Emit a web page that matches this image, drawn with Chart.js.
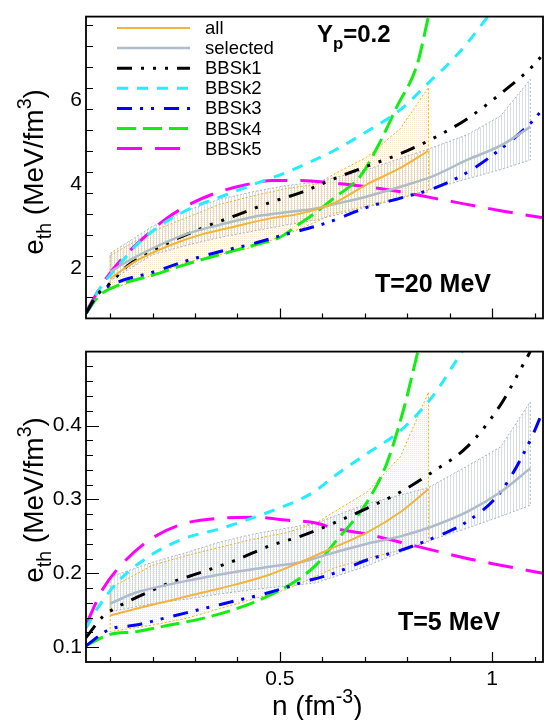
<!DOCTYPE html>
<html>
<head>
<meta charset="utf-8">
<script src="https://cdn.jsdelivr.net/npm/chart.js@4.4.0/dist/chart.umd.min.js"></script>
<style>
  html, body { margin: 0; padding: 0; background: #fff; }
  #wrap { position: relative; width: 547px; height: 720px; }
  .panel { position: absolute; left: 0; width: 547px; }
</style>
</head>
<body>
<div id="wrap">
  <div class="panel" style="top:0;height:335px"><canvas id="hot" width="547" height="335"></canvas></div>
  <div class="panel" style="top:335px;height:385px"><canvas id="cold" width="547" height="385"></canvas></div>
</div>
<script>
// === Data: thermal energy density e_th vs density n, Yp = 0.2 ===

// --- T = 20 MeV ---
const t20_bbsk1_n = [0.043, 0.067, 0.1, 0.145, 0.185, 0.24, 0.318, 0.397, 0.475, 0.554, 0.627, 0.705, 0.784, 0.862, 0.941, 1.02, 1.098, 1.12];
const t20_bbsk1_e = [0.92, 1.34, 1.64, 2.09, 2.32, 2.62, 2.96, 3.26, 3.56, 3.82, 4.13, 4.43, 4.73, 5.1, 5.56, 6.16, 6.84, 7.1];
const t20_bbsk2_n = [0.043, 0.074, 0.122, 0.169, 0.232, 0.295, 0.373, 0.452, 0.515, 0.56, 0.627, 0.705, 0.784, 0.862, 0.894, 0.94, 0.99];
const t20_bbsk2_e = [0.92, 1.49, 2.09, 2.62, 3.11, 3.45, 3.75, 4.05, 4.28, 4.48, 4.8, 5.26, 5.78, 6.54, 6.84, 7.35, 8.0];
const t20_bbsk3_n = [0.043, 0.074, 0.122, 0.2, 0.279, 0.357, 0.436, 0.515, 0.585, 0.627, 0.705, 0.784, 0.862, 0.941, 1.02, 1.09, 1.12];
const t20_bbsk3_e = [0.92, 1.41, 1.68, 1.9, 2.17, 2.39, 2.58, 2.81, 3.0, 3.14, 3.45, 3.67, 3.9, 4.28, 4.84, 5.45, 5.8];
const t20_bbsk4_n = [0.043, 0.074, 0.122, 0.2, 0.279, 0.357, 0.436, 0.499, 0.548, 0.585, 0.627, 0.69, 0.737, 0.776, 0.823, 0.85];
const t20_bbsk4_e = [0.92, 1.34, 1.6, 1.83, 2.09, 2.32, 2.54, 2.73, 3.07, 3.33, 3.67, 4.2, 5.03, 5.86, 6.84, 8.0];
const t20_bbsk5_n = [0.043, 0.09, 0.137, 0.185, 0.232, 0.295, 0.357, 0.42, 0.483, 0.548, 0.627, 0.705, 0.784, 0.862, 0.941, 1.02, 1.12];
const t20_bbsk5_e = [0.96, 1.75, 2.32, 2.78, 3.18, 3.56, 3.82, 3.99, 4.09, 4.09, 4.03, 3.94, 3.82, 3.67, 3.52, 3.37, 3.2];
const t20_all_n = [0.1, 0.161, 0.24, 0.318, 0.397, 0.475, 0.548, 0.627, 0.705, 0.784, 0.85];
const t20_all_e = [1.75, 2.17, 2.54, 2.81, 3.0, 3.18, 3.3, 3.55, 4.0, 4.39, 4.8];
const t20_sel_n = [0.1, 0.122, 0.2, 0.279, 0.357, 0.436, 0.515, 0.585, 0.627, 0.705, 0.784, 0.862, 0.941, 1.02, 1.09];
const t20_sel_e = [1.9, 2.05, 2.47, 2.81, 3.03, 3.22, 3.33, 3.42, 3.52, 3.71, 3.94, 4.2, 4.58, 4.92, 5.37];
// uncertainty bands
const t20_allBand_n = [0.1, 0.2, 0.279, 0.357, 0.436, 0.515, 0.585, 0.627, 0.705, 0.784, 0.85];
const t20_allBand_hi = [2.3, 2.88, 3.2, 3.52, 3.72, 3.9, 4.0, 4.24, 4.65, 5.33, 6.31];
const t20_allBand_lo = [1.49, 1.83, 2.13, 2.32, 2.5, 2.8, 3.1, 3.3, 3.48, 3.67, 3.82];
const t20_selBand_n = [0.1, 0.2, 0.279, 0.357, 0.436, 0.515, 0.585, 0.705, 0.85, 0.941, 1.02, 1.09];
const t20_selBand_hi = [2.35, 3.0, 3.37, 3.64, 3.82, 3.97, 4.05, 4.35, 4.84, 5.18, 5.63, 6.5];
const t20_selBand_lo = [1.7, 2.32, 2.54, 2.73, 2.88, 3.03, 3.15, 3.45, 3.86, 4.13, 4.35, 4.58];

// --- T = 5 MeV ---
const t5_bbsk1_n = [0.043, 0.082, 0.122, 0.161, 0.24, 0.318, 0.397, 0.475, 0.548, 0.627, 0.705, 0.784, 0.862, 0.941, 1.02, 1.067, 1.09];
const t5_bbsk1_e = [0.113, 0.141, 0.156, 0.167, 0.187, 0.202, 0.218, 0.237, 0.25, 0.268, 0.288, 0.31, 0.338, 0.371, 0.428, 0.476, 0.5];
const t5_bbsk2_n = [0.043, 0.074, 0.122, 0.2, 0.279, 0.357, 0.436, 0.515, 0.548, 0.585, 0.627, 0.705, 0.784, 0.862, 0.917, 0.93];
const t5_bbsk2_e = [0.126, 0.156, 0.191, 0.226, 0.248, 0.26, 0.275, 0.292, 0.3, 0.312, 0.331, 0.362, 0.393, 0.441, 0.489, 0.5];
const t5_bbsk3_n = [0.043, 0.098, 0.161, 0.24, 0.318, 0.397, 0.475, 0.548, 0.627, 0.705, 0.784, 0.862, 0.941, 1.02, 1.09, 1.12];
const t5_bbsk3_e = [0.102, 0.124, 0.13, 0.141, 0.152, 0.163, 0.174, 0.187, 0.2, 0.218, 0.231, 0.248, 0.27, 0.31, 0.38, 0.42];
const t5_bbsk4_n = [0.043, 0.098, 0.161, 0.24, 0.318, 0.397, 0.475, 0.53, 0.585, 0.627, 0.705, 0.752, 0.792, 0.825];
const t5_bbsk4_e = [0.102, 0.117, 0.121, 0.13, 0.139, 0.152, 0.17, 0.187, 0.211, 0.24, 0.296, 0.349, 0.423, 0.5];
const t5_bbsk5_n = [0.043, 0.082, 0.137, 0.2, 0.279, 0.373, 0.436, 0.515, 0.585, 0.627, 0.705, 0.784, 0.862, 0.941, 1.02, 1.12];
const t5_bbsk5_e = [0.13, 0.178, 0.218, 0.248, 0.268, 0.275, 0.276, 0.272, 0.268, 0.261, 0.253, 0.242, 0.231, 0.22, 0.211, 0.2];
const t5_all_n = [0.1, 0.161, 0.24, 0.318, 0.397, 0.475, 0.548, 0.627, 0.705, 0.784, 0.85];
const t5_all_e = [0.143, 0.152, 0.163, 0.174, 0.185, 0.198, 0.215, 0.235, 0.255, 0.283, 0.314];
const t5_sel_n = [0.1, 0.161, 0.24, 0.318, 0.397, 0.475, 0.548, 0.627, 0.705, 0.784, 0.862, 0.941, 1.02, 1.09];
const t5_sel_e = [0.159, 0.174, 0.185, 0.194, 0.202, 0.209, 0.215, 0.228, 0.24, 0.25, 0.264, 0.283, 0.31, 0.342];
const t5_allBand_n = [0.1, 0.2, 0.279, 0.357, 0.436, 0.515, 0.585, 0.627, 0.705, 0.784, 0.85];
const t5_allBand_hi = [0.18, 0.211, 0.224, 0.235, 0.246, 0.255, 0.268, 0.283, 0.31, 0.358, 0.445];
const t5_allBand_lo = [0.121, 0.13, 0.139, 0.152, 0.165, 0.178, 0.196, 0.207, 0.22, 0.231, 0.242];
const t5_selBand_n = [0.1, 0.2, 0.279, 0.357, 0.436, 0.515, 0.585, 0.705, 0.85, 0.941, 1.02, 1.09];
const t5_selBand_hi = [0.195, 0.215, 0.228, 0.242, 0.253, 0.261, 0.268, 0.294, 0.316, 0.345, 0.371, 0.432];
const t5_selBand_lo = [0.148, 0.159, 0.165, 0.172, 0.178, 0.183, 0.187, 0.21, 0.244, 0.261, 0.277, 0.292];

// axis ranges and labelled ticks
const nRange = [0.043, 1.12];
const nTickLabels = [0.5, 1];
const t20Range = [0.8, 8.0];
const t20TickLabels = [2, 4, 6];
const t5Range = [0.08, 0.5];
const t5TickLabels = [0.1, 0.2, 0.3, 0.4];

const legendNames = ['all', 'selected', 'BBSk1', 'BBSk2', 'BBSk3', 'BBSk4', 'BBSk5'];

// === Styles ===
const FONT = "'Liberation Sans', Arial, Helvetica, sans-serif";
const styles = {
    all:   { color: '#f2b43a', width: 2, dash: [] },
    selected: { color: '#aebbc8', width: 2.5, dash: [] },
    BBSk1: { color: '#000000', width: 3, dash: [15, 9, 3, 9, 3, 9, 3, 9] },
    BBSk2: { color: '#22eeff', width: 3, dash: [11, 9] },
    BBSk3: { color: '#0000ff', width: 3, dash: [15, 8, 3, 8, 3, 10] },
    BBSk4: { color: '#11ee11', width: 3, dash: [19, 7] },
    BBSk5: { color: '#ff00ff', width: 3, dash: [25, 13] }
};

// === Helpers ===
function pts(xs, ys) {
    return xs.map((x, i) => ({ x: x, y: ys[i] }));
}

// closed outline: upper edge left->right, lower edge right->left
function outline(xs, lo, hi) {
    const up = xs.map((x, i) => ({ x: x, y: hi[i] }));
    const down = xs.map((x, i) => ({ x: x, y: lo[i] })).reverse();
    return up.concat(down, [up[0]]);
}

function makePattern(size, cells, color) {
    const c = document.createElement('canvas');
    c.width = c.height = size;
    const g = c.getContext('2d');
    g.fillStyle = color;
    cells.forEach(([cx, cy]) => g.fillRect(cx, cy, 1, 1));
    return g.createPattern(c, 'repeat');
}

const orangeDots = makePattern(2, [[0, 0]], 'rgba(247,195,80,0.38)');
const greyMesh = makePattern(3, [[0, 0], [0, 1], [0, 2]], 'rgba(165,180,198,0.45)');

function curve(name, xs, ys) {
    const s = styles[name];
    return {
        label: name,
        data: pts(xs, ys),
        borderColor: s.color,
        borderWidth: s.width,
        borderDash: s.dash,
        pointRadius: 0,
        cubicInterpolationMode: 'monotone',
        fill: false,
        order: 0
    };
}

function band(xs, lo, hi, edge, pattern) {
    return {
        label: '',
        data: outline(xs, lo, hi),
        borderColor: edge,
        borderWidth: 1,
        borderDash: [2, 2],
        backgroundColor: pattern,
        pointRadius: 0,
        tension: 0,
        fill: 'shape',
        order: 10
    };
}

// text with sub/superscripts: parts = [[text, shift]], shift -1 sub, +1 sup
function richWidth(ctx, parts, size, weight) {
    let w = 0;
    parts.forEach(([t, s]) => {
        ctx.font = `${weight} ${s ? size * 0.7 : size}px ${FONT}`;
        w += ctx.measureText(t).width;
    });
    return w;
}
function drawRich(ctx, parts, x, y, size, weight) {
    let cx = x;
    parts.forEach(([t, s]) => {
        ctx.font = `${weight} ${s ? size * 0.7 : size}px ${FONT}`;
        const dy = s > 0 ? -size * 0.42 : (s < 0 ? size * 0.28 : 0);
        ctx.fillText(t, cx, y + dy);
        cx += ctx.measureText(t).width;
    });
}

// === Frame, inward ticks, titles and labels ===
const framePlugin = {
    id: 'frame',
    afterDraw(chart, args, opts) {
        const { ctx, chartArea: a } = chart;
        const xs = chart.scales.x, ys = chart.scales.y;
        ctx.save();
        ctx.strokeStyle = '#000';
        ctx.lineWidth = 1.2;
        ctx.setLineDash([]);
        ctx.beginPath();
        // n ticks every 0.1
        for (let i = 1; i <= 11; i++) {
            const v = i / 10;
            const px = Math.round(xs.getPixelForValue(v)) + 0.5;
            const len = nTickLabels.includes(v) ? 10 : 5;
            ctx.moveTo(px, a.bottom);
            ctx.lineTo(px, a.bottom - len);
        }
        // e_th ticks
        const n = Math.round((ys.max - ys.min) / opts.minor);
        for (let i = 0; i <= n; i++) {
            const v = +(ys.min + i * opts.minor).toFixed(4);
            if (v <= ys.min || v >= ys.max) continue;
            const py = Math.round(ys.getPixelForValue(v)) + 0.5;
            const len = opts.majors.some(m => Math.abs(m - v) < 1e-6) ? 13 : 7;
            ctx.moveTo(a.left, py);
            ctx.lineTo(a.left + len, py);
        }
        ctx.stroke();
        ctx.lineWidth = 1.8;
        ctx.strokeRect(a.left, a.top, a.right - a.left, a.bottom - a.top);

        ctx.fillStyle = '#000';
        ctx.textAlign = 'left';
        ctx.textBaseline = 'alphabetic';

        // y title, rotated
        const yTitle = [['e', 0], ['th', -1], [' (MeV/fm', 0], ['3', 1], [')', 0]];
        const tw = richWidth(ctx, yTitle, 28, 'normal');
        ctx.save();
        ctx.translate(43, opts.titleY);
        ctx.rotate(-Math.PI / 2);
        drawRich(ctx, yTitle, -tw / 2, 0, 28, 'normal');
        ctx.restore();

        (opts.notes || []).forEach(nt => drawRich(ctx, nt.parts, nt.x, nt.y, nt.size, 'bold'));

        if (opts.xTitle) {
            drawRich(ctx, [['n (fm', 0], ['-3', 1], [')', 0]], 272, 380, 28, 'normal');
        }

        if (opts.legend) {
            chart.data.datasets.forEach(ds => {
                const row = legendNames.indexOf(ds.label);
                if (row < 0) return;
                const yy = 28 + row * 20.1;
                ctx.strokeStyle = ds.borderColor;
                ctx.lineWidth = ds.borderWidth;
                ctx.setLineDash(ds.borderDash);
                ctx.beginPath();
                ctx.moveTo(117, yy);
                ctx.lineTo(190, yy);
                ctx.stroke();
                ctx.font = `18.5px ${FONT}`;
                ctx.fillText(ds.label, 205, yy + 6);
            });
        }
        ctx.restore();
    }
};

function buildChart(id, datasets, yRange, yLabels, showX, frameOpts) {
    const ctx = document.getElementById(id).getContext('2d');
    return new Chart(ctx, {
        type: 'line',
        data: { datasets: datasets },
        options: {
            responsive: false,
            animation: false,
            events: [],
            layout: { padding: { top: 8, right: 4, left: 0, bottom: 0 } },
            scales: {
                x: {
                    type: 'linear',
                    min: nRange[0],
                    max: nRange[1],
                    grid: { display: false, drawTicks: false },
                    border: { display: false },
                    afterBuildTicks: s => { s.ticks = nTickLabels.map(v => ({ value: v })); },
                    afterFit: s => { s.height = showX ? 58 : 8; },
                    ticks: {
                        display: showX,
                        padding: 5,
                        color: '#000',
                        font: { family: FONT, size: 21 },
                        maxRotation: 0,
                        callback: v => String(v)
                    }
                },
                y: {
                    type: 'linear',
                    min: yRange[0],
                    max: yRange[1],
                    grid: { display: false, drawTicks: false },
                    border: { display: false },
                    afterBuildTicks: s => { s.ticks = yLabels.map(v => ({ value: v })); },
                    afterFit: s => { s.width = 86; },
                    ticks: {
                        padding: 4,
                        color: '#000',
                        font: { family: FONT, size: 21 },
                        callback: v => String(v)
                    }
                }
            },
            plugins: {
                legend: { display: false },
                tooltip: { enabled: false },
                frame: frameOpts
            }
        },
        plugins: [framePlugin]
    });
}

// === Panels ===
// the grey band comes before the orange one so it is painted over it
buildChart('hot', [
    curve('all', t20_all_n, t20_all_e),
    curve('selected', t20_sel_n, t20_sel_e),
    curve('BBSk1', t20_bbsk1_n, t20_bbsk1_e),
    curve('BBSk2', t20_bbsk2_n, t20_bbsk2_e),
    curve('BBSk3', t20_bbsk3_n, t20_bbsk3_e),
    curve('BBSk4', t20_bbsk4_n, t20_bbsk4_e),
    curve('BBSk5', t20_bbsk5_n, t20_bbsk5_e),
    band(t20_selBand_n, t20_selBand_lo, t20_selBand_hi, '#a4b2c0', greyMesh),
    band(t20_allBand_n, t20_allBand_lo, t20_allBand_hi, '#f5b000', orangeDots)
], t20Range, t20TickLabels, false, {
    minor: 0.5,
    majors: t20TickLabels,
    titleY: 172,
    legend: true,
    notes: [
        { parts: [['Y', 0], ['p', -1], ['=0.2', 0]], x: 317, y: 42, size: 24 },
        { parts: [['T=20 MeV', 0]], x: 375, y: 292, size: 25 }
    ]
});

buildChart('cold', [
    curve('all', t5_all_n, t5_all_e),
    curve('selected', t5_sel_n, t5_sel_e),
    curve('BBSk1', t5_bbsk1_n, t5_bbsk1_e),
    curve('BBSk2', t5_bbsk2_n, t5_bbsk2_e),
    curve('BBSk3', t5_bbsk3_n, t5_bbsk3_e),
    curve('BBSk4', t5_bbsk4_n, t5_bbsk4_e),
    curve('BBSk5', t5_bbsk5_n, t5_bbsk5_e),
    band(t5_selBand_n, t5_selBand_lo, t5_selBand_hi, '#a4b2c0', greyMesh),
    band(t5_allBand_n, t5_allBand_lo, t5_allBand_hi, '#f5b000', orangeDots)
], t5Range, t5TickLabels, true, {
    minor: 0.02,
    majors: t5TickLabels,
    titleY: 165,
    xTitle: true,
    notes: [
        { parts: [['T=5 MeV', 0]], x: 398, y: 295, size: 25 }
    ]
});
</script>
</body>
</html>
